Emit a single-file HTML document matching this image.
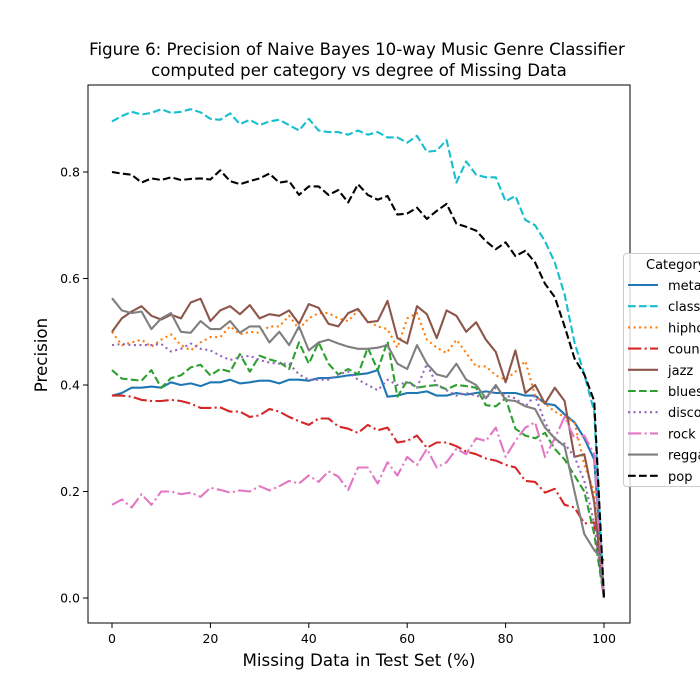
<!DOCTYPE html>
<html><head><meta charset="utf-8"><style>
body{margin:0;background:#fff;}
svg{display:block;font-family:"DejaVu Sans","Liberation Sans",sans-serif;}
</style></head><body>
<svg id="chart" width="700" height="700" viewBox="0 0 700 700">
<rect width="700" height="700" fill="#fff"/>
<text x="357" y="55" font-size="16.6" text-anchor="middle">Figure 6: Precision of Naive Bayes 10-way Music Genre Classifier</text>
<text x="359" y="76" font-size="16.6" text-anchor="middle">computed per category vs degree of Missing Data</text>
<text x="359" y="666" font-size="16.7" text-anchor="middle">Missing Data in Test Set (%)</text>
<text transform="translate(47,355) rotate(-90)" font-size="16.7" text-anchor="middle">Precision</text>
<g id="ticks"></g>
<g id="series"></g>
<rect x="88" y="85" width="542" height="538" fill="none" stroke="#000" stroke-width="1"/>
<g id="legend"></g>
</svg>
<script>
const xs = [0,2,4,6,8,10,12,14,16,18,20,22,24,26,28,30,32,34,36,38,40,42,44,46,48,50,52,54,56,58,60,62,64,66,68,70,72,74,76,78,80,82,84,86,88,90,92,94,96,98,100];
const metal = [.380,.385,.395,.395,.397,.395,.405,.400,.403,.398,.405,.405,.410,.403,.405,.408,.408,.403,.410,.410,.408,.413,.413,.415,.418,.420,.422,.428,.378,.380,.385,.385,.388,.380,.380,.385,.382,.385,.388,.385,.385,.385,.380,.380,.365,.362,.345,.330,.300,.260,0];
const classical = [.895,.905,.913,.908,.911,.918,.911,.913,.918,.912,.900,.898,.910,.890,.898,.888,.895,.898,.888,.878,.900,.878,.875,.875,.870,.878,.870,.875,.865,.865,.855,.868,.838,.840,.860,.780,.820,.795,.790,.790,.745,.755,.710,.700,.670,.630,.570,.480,.420,.350,0];
const hiphop = [.500,.475,.480,.485,.472,.485,.495,.475,.465,.480,.490,.490,.510,.495,.500,.498,.510,.510,.530,.505,.525,.535,.535,.525,.520,.540,.520,.510,.505,.470,.525,.535,.485,.470,.460,.485,.460,.435,.435,.418,.410,.425,.445,.380,.365,.350,.340,.330,.250,.200,0];
const country = [.380,.380,.378,.372,.370,.370,.372,.370,.365,.357,.357,.358,.350,.350,.340,.343,.355,.350,.340,.332,.325,.337,.337,.322,.318,.310,.325,.315,.320,.292,.295,.305,.282,.292,.292,.285,.275,.270,.262,.258,.250,.245,.220,.218,.198,.205,.175,.170,.140,.142,0];
const jazz = [.500,.525,.538,.548,.530,.523,.532,.525,.555,.562,.520,.540,.548,.533,.550,.525,.533,.530,.540,.515,.552,.545,.515,.510,.535,.543,.518,.520,.558,.488,.478,.548,.533,.488,.540,.530,.500,.518,.485,.462,.405,.465,.385,.400,.365,.395,.370,.265,.270,.180,0];
const blues = [.428,.412,.410,.408,.428,.395,.413,.418,.433,.438,.418,.430,.425,.458,.425,.455,.448,.443,.430,.480,.440,.480,.440,.420,.430,.420,.470,.428,.482,.378,.408,.395,.398,.400,.392,.400,.398,.395,.362,.360,.375,.318,.305,.300,.310,.280,.260,.230,.200,.120,0];
const disco = [.475,.477,.475,.475,.475,.477,.463,.468,.478,.468,.465,.455,.447,.452,.455,.447,.442,.440,.440,.420,.410,.410,.410,.420,.425,.410,.400,.390,.410,.400,.405,.395,.440,.400,.390,.380,.385,.380,.375,.395,.380,.375,.360,.380,.330,.295,.290,.265,.220,.140,0];
const rock = [.175,.185,.170,.195,.175,.200,.200,.195,.198,.190,.207,.203,.198,.202,.200,.210,.202,.210,.220,.215,.230,.218,.238,.228,.203,.245,.245,.215,.255,.230,.265,.250,.280,.245,.255,.280,.270,.300,.295,.320,.265,.295,.320,.330,.265,.300,.340,.300,.305,.270,0];
const reggae = [.563,.540,.535,.538,.505,.525,.535,.500,.498,.520,.505,.505,.520,.498,.510,.510,.480,.500,.475,.510,.465,.480,.485,.478,.472,.468,.468,.470,.475,.440,.430,.475,.440,.420,.415,.440,.410,.400,.375,.400,.372,.370,.360,.355,.320,.300,.285,.200,.120,.090,.070];
const pop = [.800,.797,.795,.780,.788,.785,.790,.785,.787,.788,.786,.803,.783,.777,.783,.788,.797,.780,.783,.757,.773,.773,.757,.766,.743,.777,.757,.748,.755,.720,.722,.733,.712,.727,.740,.703,.697,.690,.670,.655,.668,.642,.652,.630,.590,.565,.510,.450,.420,.370,0];
const xTicks = [0,20,40,60,80,100];
const yTicks = [0.0,0.2,0.4,0.6,0.8];
const names = ["metal","classical","hiphop","country","jazz","blues","disco","rock","reggae","pop"];

const NS="http://www.w3.org/2000/svg";
const X=v=>112+v*4.92;
const Y=v=>598-v*532.5;
const dash={solid:"",dashed:"7.7,3.3",dotted:"2.1,3.4",dashdot:"13.3,3.3,2.1,3.3"};
const defs=[[metal,"#1f77b4","solid"],[classical,"#17becf","dashed"],[hiphop,"#ff7f0e","dotted"],[country,"#d62728","dashdot"],[jazz,"#8c564b","solid"],[blues,"#2ca02c","dashed"],[disco,"#9467bd","dotted"],[rock,"#e377c2","dashdot"],[reggae,"#7f7f7f","solid"],[pop,"#000000","dashed"]];
function mk(tag,attrs,parent){const e=document.createElementNS(NS,tag);for(const k in attrs)e.setAttribute(k,attrs[k]);parent.appendChild(e);return e;}
const tg=document.getElementById("ticks");
xTicks.forEach(t=>{
  const l=mk("line",{x1:X(t),x2:X(t),y1:623,y2:628,stroke:"#000"},tg);
  
  
  const tx=mk("text",{x:X(t),y:643,"font-size":"12.5","text-anchor":"middle"},tg);
  tx.textContent=t;
  
  
});
yTicks.forEach(t=>{
  const l=mk("line",{x1:83,x2:88,y1:Y(t),y2:Y(t),stroke:"#000"},tg);
  
  
  const tx=mk("text",{x:80,y:Y(t)+4.5,"font-size":"12.5","text-anchor":"end"},tg);
  tx.textContent=t.toFixed(1);
  
  
});
const sg=document.getElementById("series");
defs.forEach((d,i)=>{
  const pts=xs.map((x,j)=>X(x).toFixed(1)+","+Y(d[0][j]).toFixed(1)).join(" ");
  const p=mk("polyline",{points:pts,fill:"none",stroke:d[1],"stroke-width":"2.1","stroke-dasharray":dash[d[2]],"stroke-linejoin":"round"},sg);
  
  
});
const lg=document.getElementById("legend");
const box=mk("rect",{x:623.5,y:253.5,width:90,height:233,rx:3,fill:"#fff","fill-opacity":"0.8",stroke:"#ccc"},lg);


const tt=mk("text",{x:646,y:269,"font-size":"13"},lg);
tt.textContent="Category";


defs.forEach((d,i)=>{
  const y=285+i*21.2;
  const l=mk("line",{x1:628,x2:658,y1:y,y2:y,stroke:d[1],"stroke-width":"2.1","stroke-dasharray":dash[d[2]]},lg);
  
  
  const t=mk("text",{x:668,y:y+5,"font-size":"13"},lg);
  t.textContent=names[i];
  
  
});
</script>
</body></html>
